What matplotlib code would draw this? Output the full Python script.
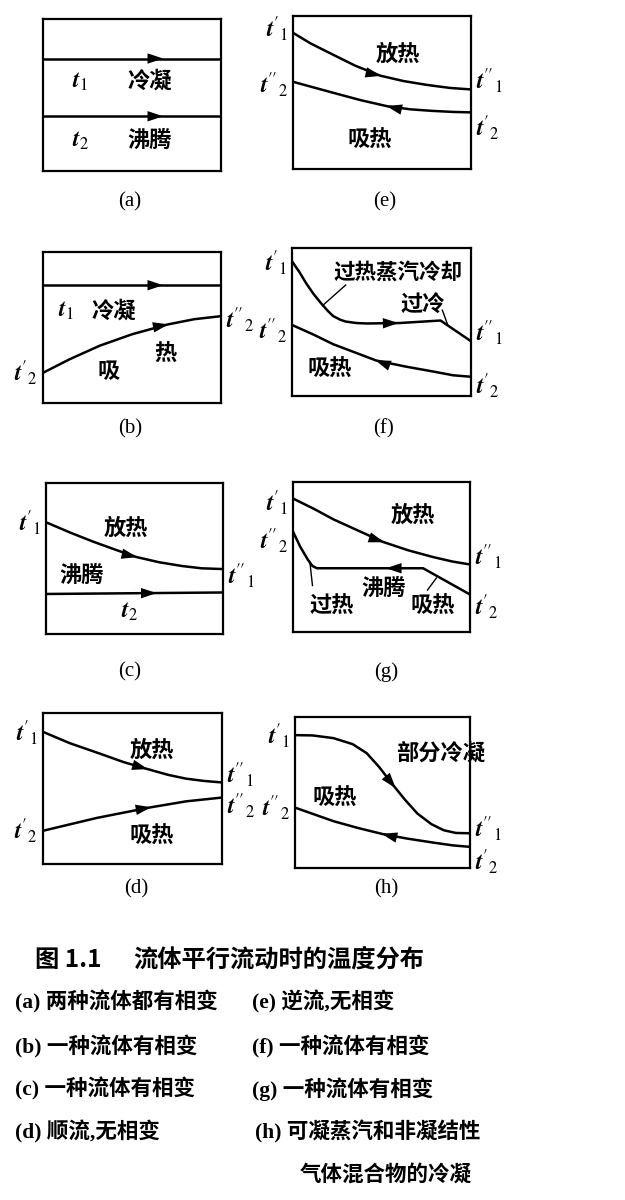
import numpy as np
import matplotlib
matplotlib.use("Agg")
import matplotlib.pyplot as plt

plt.rcParams['font.family'] = ['Noto Sans CJK SC', 'DejaVu Sans']
plt.rcParams['mathtext.fontset'] = 'stix'

# curves: x = position along exchanger (0-100), y = temperature (0-100)
a_t1_x = [0, 100]
a_t1_y = [74, 74]
a_t2_x = [0, 100]
a_t2_y = [36, 36]

b_t1_x = [0, 100]
b_t1_y = [78, 78]
b_t2_x = [0, 15, 32, 50, 70, 85, 100]
b_t2_y = [20, 29, 38, 45.5, 52, 55.5, 57.5]

c_t1_x = [0, 14, 27, 40, 51, 64, 77, 88, 100]
c_t1_y = [74, 67, 61, 55.5, 51, 47.5, 45, 43.5, 43]
c_t2_x = [0, 100]
c_t2_y = [26.5, 27.5]

d_t1_x = [0, 15, 32, 45, 58, 70, 80, 90, 100]
d_t1_y = [87.5, 80, 73, 67.5, 63, 59, 56.5, 55, 54]
d_t2_x = [0, 30, 60, 80, 100]
d_t2_y = [22, 30.5, 37.5, 41.5, 44]

e_t1_x = [0, 10, 22, 35, 49, 62, 75, 88, 100]
e_t1_y = [89, 82, 75, 67.5, 61, 57.5, 55, 53, 52]
e_t2_x = [0, 22, 38, 53, 66, 78, 90, 100]
e_t2_y = [57, 50, 45, 41, 39, 38, 37.3, 37]

f_t1_x = [0, 4, 8, 12, 16, 20, 23, 27, 30, 36, 42, 60, 83, 100]
f_t1_y = [91, 84, 76, 69, 63, 57.5, 54, 51.5, 50.3, 49.3, 49, 49.3, 51, 37]
f_t2_x = [0, 12, 23, 35, 47, 63, 79, 90, 100]
f_t2_y = [48, 41.5, 35, 29.5, 24, 20, 16.5, 14, 13]

g_t1_x = [0, 12, 23, 37, 51, 65, 79, 90, 100]
g_t1_y = [89, 82, 75, 67.5, 60, 54.5, 50, 47, 45]
g_t2_x = [0, 4, 8.5, 11, 13.5, 20, 73.5, 100]
g_t2_y = [67, 57, 48, 44, 42.5, 42.5, 42.5, 25]

h_t1_x = [0, 10, 22, 33, 41, 48, 56, 63, 70, 78, 85, 92, 100]
h_t1_y = [88, 87.8, 86, 82, 76, 67, 55, 45, 36, 29, 25, 23.2, 23]
h_t2_x = [0, 22, 36, 50, 64, 78, 90, 100]
h_t2_y = [40, 31, 26.5, 22.5, 19.5, 17, 15, 14]

fig = plt.figure(figsize=(6.25, 12), dpi=100)
W, H = 625, 1200


def panel(box):
    x0, y0, x1, y1 = box
    ax = fig.add_axes([x0 / W, 1 - y1 / H, (x1 - x0) / W, (y1 - y0) / H])
    ax.set_xlim(0, 100)
    ax.set_ylim(0, 100)
    ax.set_xticks([])
    ax.set_yticks([])
    for s in ax.spines.values():
        s.set_linewidth(1.6)
    return ax


def curve(ax, xs, ys, xa, d=1):
    ax.plot(xs, ys, color='black', lw=1.8, solid_capstyle='butt')
    ya = np.interp(xa, xs, ys)
    yb = np.interp(xa + d * 0.5, xs, ys)
    ax.annotate('', xy=(xa + d * 0.5, yb), xytext=(xa, ya),
                arrowprops=dict(arrowstyle='-|>,head_length=0.75,head_width=0.25',
                                mutation_scale=15, color='black', lw=0,
                                shrinkA=0, shrinkB=0))


def cn(ax, x, y, s, size=16):
    ax.text(x, y, s, fontsize=size, fontweight='bold', ha='center', va='center')


def tt(s):
    # italic bold t with primes and subscript
    p, n = s
    return r"$\mathbfit{t}" + p + "_{" + n + "}$"


def tl(ax, y, s, side='left'):
    if side == 'left':
        ax.text(-0.03, y / 100, tt(s), transform=ax.transAxes, fontsize=17,
                ha='right', va='center')
    else:
        ax.text(1.03, y / 100, tt(s), transform=ax.transAxes, fontsize=17,
                ha='left', va='center')


# (a)
ax = panel((43, 19, 221, 171))
curve(ax, a_t1_x, a_t1_y, 67)
curve(ax, a_t2_x, a_t2_y, 67)
ax.text(21, 59, tt(('', '1')), fontsize=17, ha='center', va='center')
ax.text(21, 20, tt(('', '2')), fontsize=17, ha='center', va='center')
cn(ax, 60, 59, '冷凝')
cn(ax, 60, 20, '沸腾')

# (e)
ax = panel((293, 16, 471, 169))
curve(ax, e_t1_x, e_t1_y, 49)
curve(ax, e_t2_x, e_t2_y, 53, d=-1)
cn(ax, 59, 75, '放热')
cn(ax, 43, 19, '吸热')
tl(ax, 92, ("'", '1'))
tl(ax, 55, ("''", '2'))
tl(ax, 58, ("''", '1'), 'right')
tl(ax, 27, ("'", '2'), 'right')

# (b)
ax = panel((43, 252, 221, 403))
curve(ax, b_t1_x, b_t1_y, 67)
curve(ax, b_t2_x, b_t2_y, 70)
ax.text(13, 61, tt(('', '1')), fontsize=17, ha='center', va='center')
cn(ax, 40, 61, '冷凝')
cn(ax, 37, 21, '吸')
cn(ax, 69, 32, '热')
tl(ax, 20, ("'", '2'))
tl(ax, 55, ("''", '2'), 'right')

# (f)
ax = panel((292, 248, 471, 396))
curve(ax, f_t1_x, f_t1_y, 59)
curve(ax, f_t2_x, f_t2_y, 47, d=-1)
ax.text(59, 84, '过热蒸汽冷却', fontsize=15.5, fontweight='bold', ha='center', va='center')
ax.plot([17, 30], [61, 75], color='black', lw=1.0)
cn(ax, 73, 61, '过冷')
ax.plot([87, 84], [48, 58], color='black', lw=1.0)
cn(ax, 21, 18, '吸热')
tl(ax, 90, ("'", '1'))
tl(ax, 44, ("''", '2'))
tl(ax, 43, ("''", '1'), 'right')
tl(ax, 7, ("'", '2'), 'right')

# (c)
ax = panel((46, 483, 223, 634))
curve(ax, c_t1_x, c_t1_y, 51)
curve(ax, c_t2_x, c_t2_y, 62)
cn(ax, 45, 70, '放热')
cn(ax, 20, 39, '沸腾')
ax.text(47, 15, tt(('', '2')), fontsize=17, ha='center', va='center')
tl(ax, 74, ("'", '1'))
tl(ax, 39, ("''", '1'), 'right')

# (g)
ax = panel((293, 482, 470, 632))
curve(ax, g_t1_x, g_t1_y, 51)
curve(ax, g_t2_x, g_t2_y, 53, d=-1)
cn(ax, 68, 78, '放热')
cn(ax, 51, 29, '沸腾')
cn(ax, 22, 17, '过热')
ax.plot([9.5, 11], [47, 31], color='black', lw=1.0)
cn(ax, 79, 17, '吸热')
ax.plot([76, 81], [28, 36], color='black', lw=1.0)
tl(ax, 86, ("'", '1'))
tl(ax, 61, ("''", '2'))
tl(ax, 50, ("''", '1'), 'right')
tl(ax, 17, ("'", '2'), 'right')

# (d)
ax = panel((43, 713, 222, 864))
curve(ax, d_t1_x, d_t1_y, 58)
curve(ax, d_t2_x, d_t2_y, 60)
cn(ax, 61, 75, '放热')
cn(ax, 61, 18, '吸热')
tl(ax, 87, ("'", '1'))
tl(ax, 22, ("'", '2'))
tl(ax, 59, ("''", '1'), 'right')
tl(ax, 39, ("''", '2'), 'right')

# (h)
ax = panel((295, 717, 470, 868))
curve(ax, h_t1_x, h_t1_y, 57)
curve(ax, h_t2_x, h_t2_y, 50, d=-1)
cn(ax, 83, 76, '部分冷凝')
cn(ax, 23, 46, '吸热')
tl(ax, 88, ("'", '1'))
tl(ax, 40, ("''", '2'))
tl(ax, 26, ("''", '1'), 'right')
tl(ax, 4, ("'", '2'), 'right')

# panel letters
serif = ['Liberation Serif', 'Noto Sans CJK SC']
for s, x, y in [('(a)', 130, 202), ('(e)', 385, 202), ('(b)', 130, 429), ('(f)', 384, 429),
                ('(c)', 130, 672), ('(g)', 386, 672), ('(d)', 136, 889), ('(h)', 386, 889)]:
    fig.text(x / W, 1 - y / H, s, fontsize=15, family=serif, ha='center', va='center')

# caption
fig.text(35 / W, 1 - 960 / H, '图 1.1', fontsize=17.5, fontweight='bold', va='center')
fig.text(133 / W, 1 - 960 / H, '流体平行流动时的温度分布', fontsize=17.5,
         fontweight='bold', va='center')
rows = [('(a) 两种流体都有相变', 15, 1002), ('(e) 逆流,无相变', 252, 1002),
        ('(b) 一种流体有相变', 15, 1047), ('(f) 一种流体有相变', 252, 1047),
        ('(c) 一种流体有相变', 15, 1089), ('(g) 一种流体有相变', 252, 1089),
        ('(d) 顺流,无相变', 15, 1132), ('(h) 可凝蒸汽和非凝结性', 255, 1132),
        ('气体混合物的冷凝', 300, 1175)]
for s, x, y in rows:
    fig.text(x / W, 1 - y / H, s, fontsize=15.5, family=serif, fontweight='bold',
             va='center')

fig.savefig('out.png', dpi=100, facecolor='white')
